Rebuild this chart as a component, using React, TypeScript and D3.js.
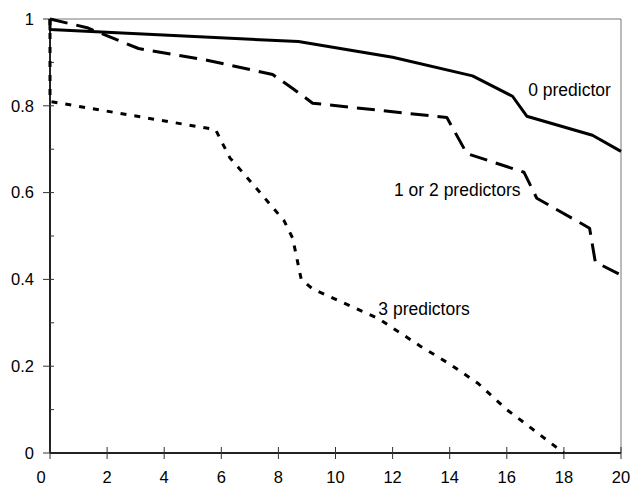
import React, { useEffect, useRef } from "react";
import * as d3 from "d3";

// survival curves, values
const zeroX = [0, 0, 8.7, 12, 14.8, 16.2, 16.7, 19, 20];
const zeroY = [1, 0.976, 0.948, 0.912, 0.869, 0.822, 0.776, 0.732, 0.695];

const oneTwoX = [0, 1.3, 3.1, 5.5, 7.8, 8.5, 9.2, 13.9, 14.6, 16.6, 17.05, 18.9, 19.1, 20];
const oneTwoY = [1, 0.98, 0.932, 0.905, 0.872, 0.84, 0.806, 0.773, 0.69, 0.647, 0.587, 0.518, 0.44, 0.41];

const threeX = [0, 0, 5.8, 6.3, 7.1, 8.2, 8.5, 8.8, 9.2, 11.5, 13, 14, 15, 16, 18];
const threeY = [1, 0.81, 0.745, 0.68, 0.62, 0.535, 0.495, 0.4, 0.378, 0.31, 0.245, 0.205, 0.16, 0.1, 0];

const xTicks = [0, 2, 4, 6, 8, 10, 12, 14, 16, 18, 20];
const yTicks = [0, 0.2, 0.4, 0.6, 0.8, 1];
const yMinor = [0.1, 0.3, 0.5, 0.7, 0.9];

const labels = [
  { text: "0 predictor", x: 16.75, y: 0.823 },
  { text: "1 or 2 predictors", x: 12.05, y: 0.593 },
  { text: "3 predictors", x: 11.5, y: 0.318 },
];

const width = 633;
const height = 487;
const margin = { top: 19, right: 12, bottom: 34, left: 50 };

export default function App() {
  const ref = useRef<SVGSVGElement>(null);

  useEffect(() => {
    const svg = d3.select(ref.current);
    svg.selectAll("*").remove();
    const font = "Liberation Sans, Arial, Helvetica, sans-serif";

    const x = d3.scaleLinear().domain([0, 20]).range([margin.left, width - margin.right]);
    const y = d3.scaleLinear().domain([0, 1]).range([height - margin.bottom, margin.top]);

    // frame on top and right
    svg.append("path")
      .attr("d", `M${x(0)},${y(1)}H${x(20)}V${y(0)}`)
      .attr("fill", "none")
      .attr("stroke", "#777")
      .attr("stroke-width", 1);

    // y axis
    const ya = svg.append("g");
    ya.append("line")
      .attr("x1", x(0)).attr("x2", x(0))
      .attr("y1", y(0)).attr("y2", y(1))
      .attr("stroke", "#222").attr("stroke-width", 2);
    ya.selectAll("line.major").data(yTicks).join("line")
      .attr("class", "major")
      .attr("x1", x(0) - 7).attr("x2", x(0) + 4)
      .attr("y1", d => y(d)).attr("y2", d => y(d))
      .attr("stroke", "#333").attr("stroke-width", 1);
    ya.selectAll("line.minor").data(yMinor).join("line")
      .attr("class", "minor")
      .attr("x1", x(0)).attr("x2", x(0) + 4)
      .attr("y1", d => y(d)).attr("y2", d => y(d))
      .attr("stroke", "#333").attr("stroke-width", 1);
    ya.selectAll("text").data(yTicks).join("text")
      .attr("x", x(0) - 16)
      .attr("y", d => y(d))
      .attr("dy", "0.35em")
      .attr("text-anchor", "end")
      .attr("font-family", font)
      .attr("font-size", 16.5)
      .text(d => String(d));

    // x axis
    const xa = svg.append("g");
    xa.append("line")
      .attr("x1", x(0)).attr("x2", x(20))
      .attr("y1", y(0)).attr("y2", y(0))
      .attr("stroke", "#222").attr("stroke-width", 2);
    xa.selectAll("line.tick").data(xTicks).join("line")
      .attr("class", "tick")
      .attr("x1", d => x(d)).attr("x2", d => x(d))
      .attr("y1", y(0) - 6).attr("y2", y(0) + 6)
      .attr("stroke", "#333").attr("stroke-width", 1);
    xa.selectAll("text").data(xTicks).join("text")
      .attr("x", d => x(d) - (d === 0 ? 9 : 0))
      .attr("y", y(0) + 30)
      .attr("text-anchor", "middle")
      .attr("font-family", font)
      .attr("font-size", 16.5)
      .text(d => String(d));

    const line = d3.line<[number, number]>()
      .x(d => x(d[0]))
      .y(d => y(d[1]));

    const series = [
      { xs: zeroX, ys: zeroY, dash: null, dx: 0 },
      { xs: oneTwoX, ys: oneTwoY, dash: "18 9", dx: 0 },
      { xs: threeX, ys: threeY, dash: "6 8", dx: 0 },
    ];

    series.forEach(s => {
      const pts = s.xs.map((v, i) => [v, s.ys[i]] as [number, number]);
      svg.append("path")
        .attr("d", line(pts))
        .attr("fill", "none")
        .attr("stroke", "#000")
        .attr("stroke-width", 3)
        .attr("stroke-dasharray", s.dash)
        .attr("stroke-linejoin", "round");
    });

    svg.selectAll("text.lbl").data(labels).join("text")
      .attr("class", "lbl")
      .attr("x", d => x(d.x))
      .attr("y", d => y(d.y))
      .attr("font-family", font)
      .attr("font-size", 17.5)
      .text(d => d.text);
  }, []);

  return (
    <svg
      ref={ref}
      width={width}
      height={height}
      style={{ position: "absolute", left: 0, top: 0, background: "#fff" }}
    />
  );
}
